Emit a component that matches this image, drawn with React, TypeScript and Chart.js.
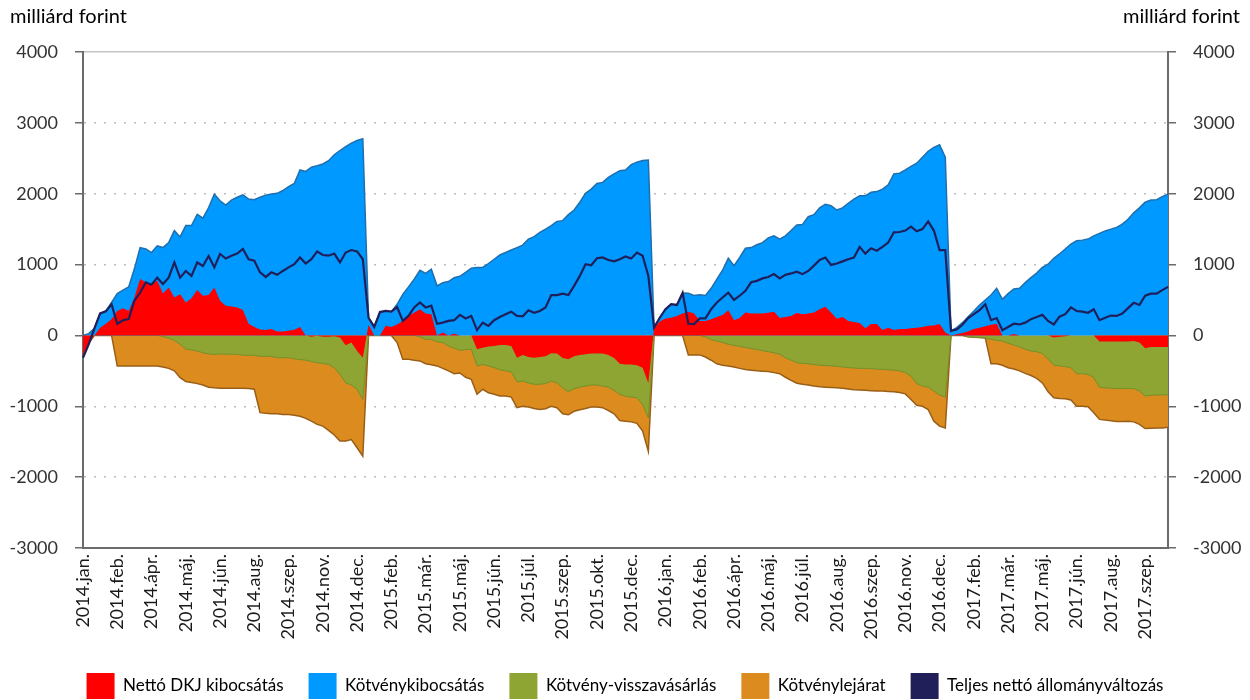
import React, { useEffect, useRef } from "react";
import { Chart, registerables } from "chart.js";

Chart.register(...registerables);

// Tick labels shown on the category axis (one every LABEL_STEP points)
const tickLabels = [
  "2014.jan.", "2014.feb.", "2014.ápr.", "2014.máj.", "2014.jún.", "2014.aug.", "2014.szep.", "2014.nov.", "2014.dec.",
  "2015.feb.", "2015.már.", "2015.máj.", "2015.jún.", "2015.júl.", "2015.szep.", "2015.okt.", "2015.dec.",
  "2016.jan.", "2016.feb.", "2016.ápr.", "2016.máj.", "2016.júl.", "2016.aug.", "2016.szep.", "2016.nov.", "2016.dec.",
  "2017.feb.", "2017.már.", "2017.máj.", "2017.jún.", "2017.aug.", "2017.szep.",
];
const LABEL_STEP = 6;

// Nettó DKJ kibocsátás (cumulative within year, bn HUF)
const dkj = [
  // 2014
  -300, -110, 0, 110, 165, 230, 345, 385, 345, 535,
  795, 750, 725, 770, 590, 675, 535, 580, 465, 525,
  640, 560, 570, 675, 490, 420, 410, 395, 360, 165,
  120, 85, 75, 90, 55, 55, 65, 80, 120, 0,
  -20, -5, -20, -20, -10, -30, -140, -100, -220, -315,
  // 2015
  150, 0, 0, 135, 120, 155, 205, 275, 320, 370,
  310, 300, 0, 40, 0, 25, 0, 0, 0, -195,
  -175, -155, -150, -135, -135, -150, -315, -275, -305, -315,
  -305, -295, -250, -255, -320, -335, -295, -275, -265, -255,
  -255, -255, -275, -320, -400, -410, -410, -420, -455, -670,
  // 2016
  100, 195, 240, 250, 275, 310, 335, 310, 205, 205,
  230, 260, 290, 355, 215, 245, 325, 310, 310, 310,
  320, 335, 245, 260, 275, 315, 300, 310, 325, 370,
  405, 325, 235, 260, 205, 190, 175, 100, 160, 160,
  75, 110, 75, 90, 90, 100, 110, 120, 135, 140,
  160, 40,
  // 2017
  0, 15, 35, 55, 90, 110, 130, 150, 165, 0,
  0, 20, 0, 0, 0, 0, 0, 0, -30, -20,
  -10, 0, 0, 0, 0, 0, -85, -85, -85, -85,
  -85, -85, -80, -100, -180, -165, -165, -165, -165,
];

// Kötvénykibocsátás
const kotveny = [
  // 2014
  0, 25, 100, 200, 180, 235, 245, 255, 340, 405,
  445, 470, 445, 495, 650, 635, 945, 810, 1085, 1025,
  1070, 1095, 1235, 1320, 1410, 1420, 1500, 1555, 1625, 1760,
  1795, 1865, 1905, 1905, 1950, 1990, 2035, 2065, 2215, 2315,
  2375, 2395, 2420, 2465, 2550, 2610, 2665, 2715, 2750, 2775,
  // 2015
  100, 120, 330, 210, 215, 285, 375, 410, 475, 550,
  565, 635, 700, 705, 760, 790, 835, 890, 950, 960,
  960, 1015, 1075, 1135, 1170, 1205, 1240, 1275, 1360, 1395,
  1455, 1500, 1550, 1610, 1620, 1705, 1770, 1880, 2005, 2065,
  2145, 2160, 2230, 2280, 2325, 2335, 2410, 2445, 2470, 2475,
  // 2016
  10, 55, 130, 190, 155, 290, 260, 255, 370, 360,
  435, 535, 630, 735, 770, 855, 905, 930, 970, 1000,
  1055, 1070, 1115, 1145, 1205, 1245, 1265, 1365, 1380, 1430,
  1445, 1505, 1535, 1540, 1660, 1735, 1795, 1870, 1860, 1870,
  1990, 2015, 2205, 2200, 2245, 2285, 2320, 2395, 2465, 2515,
  2530, 2475,
  // 2017
  65, 95, 145, 210, 255, 320, 370, 420, 500, 510,
  590, 635, 665, 745, 815, 880, 960, 1005, 1090, 1150,
  1220, 1290, 1335, 1345, 1360, 1405, 1440, 1475, 1500, 1525,
  1570, 1640, 1730, 1800, 1880, 1910, 1915, 1960, 1995,
];

// Kötvény-visszavásárlás
const visszavasarlas = [
  // 2014
  0, 0, 0, 0, 0, 0, 0, 0, 0, 0,
  0, 0, 0, 0, -15, -40, -70, -125, -195, -205,
  -220, -245, -260, -270, -260, -265, -265, -265, -280, -280,
  -280, -295, -295, -295, -315, -315, -315, -330, -340, -350,
  -350, -380, -375, -390, -445, -520, -530, -600, -540, -590,
  // 2015
  0, 0, 0, 0, 0, 0, 0, 0, 0, -20,
  -55, -55, -90, -100, -150, -180, -210, -200, -195, -235,
  -235, -275, -305, -350, -365, -365, -340, -370, -365, -375,
  -385, -385, -395, -415, -420, -460, -455, -455, -450, -445,
  -445, -460, -455, -455, -430, -450, -460, -460, -520, -495,
  // 2016
  0, 0, 0, 0, 0, 0, 0, 0, 0, -20,
  -60, -80, -100, -125, -140, -155, -170, -185, -200, -215,
  -230, -245, -265, -315, -350, -385, -395, -400, -410, -420,
  -425, -430, -435, -445, -455, -460, -465, -465, -470, -475,
  -480, -485, -490, -500, -525, -575, -680, -715, -730, -785,
  -840, -870,
  // 2017
  0, 0, 0, -20, -25, -30, -35, -55, -70, -80,
  -110, -135, -165, -195, -220, -230, -255, -335, -390, -410,
  -430, -455, -540, -540, -550, -595, -645, -655, -660, -665,
  -665, -665, -670, -685, -675, -680, -675, -675, -675,
];

// Kötvénylejárat
const lejarat = [
  // 2014
  0, 0, 0, 0, 0, 0, -430, -430, -430, -430,
  -430, -430, -430, -430, -430, -425, -430, -470, -455, -460,
  -460, -455, -470, -470, -485, -480, -480, -480, -465, -470,
  -480, -795, -805, -810, -790, -800, -800, -795, -800, -820,
  -840, -870, -885, -930, -950, -940, -820, -770, -825, -800,
  // 2015
  0, 0, 0, 0, 0, -100, -335, -335, -350, -340,
  -345, -360, -340, -365, -350, -360, -320, -390, -425, -400,
  -350, -380, -375, -370, -355, -355, -365, -355, -340, -340,
  -355, -355, -355, -350, -365, -325, -320, -320, -315, -310,
  -310, -305, -330, -330, -370, -350, -350, -360, -375, -470,
  // 2016
  0, 0, 0, 0, 0, 0, -275, -275, -275, -285,
  -290, -320, -320, -305, -305, -310, -310, -305, -300, -290,
  -280, -280, -275, -275, -285, -290, -295, -300, -305, -305,
  -305, -305, -305, -300, -300, -305, -305, -310, -310, -310,
  -305, -305, -305, -305, -300, -330, -305, -285, -315, -425,
  -440, -435,
  // 2017
  0, 0, 0, 0, 0, 0, 0, -345, -330, -340,
  -345, -340, -335, -340, -345, -375, -415, -460, -460, -460,
  -455, -455, -460, -460, -455, -495, -455, -455, -460, -465,
  -465, -460, -470, -470, -460, -465, -465, -465, -455,
];

// Teljes nettó állományváltozás
const teljes = [
  // 2014
  -315, -125, 100, 310, 340, 440, 165, 215, 230, 490,
  605, 750, 715, 815, 725, 815, 1030, 815, 910, 840,
  1030, 980, 1120, 960, 1150, 1085, 1125, 1155, 1220, 1075,
  1055, 890, 825, 890, 855, 910, 960, 1005, 1100, 1015,
  1075, 1185, 1135, 1125, 1155, 1030, 1170, 1205, 1185, 1075,
  // 2015
  250, 120, 330, 345, 335, 400, 205, 275, 395, 465,
  395, 420, 165, 180, 205, 215, 290, 240, 275, 75,
  180, 135, 215, 260, 300, 335, 275, 270, 355, 320,
  345, 395, 570, 570, 590, 570, 700, 840, 1005, 990,
  1090, 1100, 1065, 1045, 1075, 1115, 1085, 1170, 1125, 840,
  // 2016
  110, 250, 370, 440, 430, 600, 165, 160, 240, 240,
  370, 465, 535, 605, 500, 560, 630, 750, 770, 805,
  825, 865, 805, 855, 875, 900, 865, 910, 985, 1065,
  1100, 995, 1015, 1045, 1075, 1100, 1250, 1155, 1230, 1195,
  1250, 1310, 1455, 1460, 1480, 1535, 1470, 1500, 1610, 1480,
  1205, 1205,
  // 2017
  65, 85, 150, 245, 300, 355, 440, 215, 245, 75,
  120, 165, 155, 180, 230, 260, 290, 205, 155, 265,
  300, 395, 345, 335, 320, 370, 215, 250, 280, 275,
  310, 385, 460, 430, 560, 590, 590, 640, 685,
];

const seriesNames = [
  "Nettó DKJ kibocsátás",
  "Kötvénykibocsátás",
  "Kötvény-visszavásárlás",
  "Kötvénylejárat",
  "Teljes nettó állományváltozás",
];
const seriesColors = ["#ff0000", "#0099ff", "#8ea533", "#dc8c1f", "#211f5a"];

const FONT = "Lato, 'Open Sans', 'DejaVu Sans', sans-serif";
const AXIS_COLOR = "#6b6b6b";

export default function App() {
  const ref = useRef<HTMLCanvasElement | null>(null);

  useEffect(() => {
    const canvas = ref.current;
    if (!canvas) return;

    const labels = dkj.map(
      (_, i) => tickLabels[Math.min(Math.floor(i / LABEL_STEP), tickLabels.length - 1)]
    );
    const posTop = dkj.map((r, i) => Math.max(r, 0) + kotveny[i]);
    const negGreen = dkj.map((r, i) => Math.min(r, 0) + visszavasarlas[i]);
    const negOrange = negGreen.map((g, i) => g + lejarat[i]);

    const yAxis = (position: "left" | "right") => ({
      type: "linear",
      position,
      min: -3000,
      max: 4000,
      afterFit: (s: any) => {
        s.width = position === "left" ? 83 : 82;
      },
      ticks: {
        stepSize: 1000,
        padding: 17,
        color: "#333333",
        font: { family: FONT, size: 18 },
        callback: (v: any) => String(v),
      },
      grid: {
        drawOnChartArea: position === "left",
        color: (c: any) => {
          const v = c.tick ? c.tick.value : null;
          if (v === 4000) return "#c4c4c4";
          if (v === 0 || v === -3000) return "rgba(0,0,0,0)";
          return "#bcbcbc";
        },
        lineWidth: 1.5,
        tickLength: 8,
        tickColor: AXIS_COLOR,
        tickWidth: 1.5,
        tickBorderDash: [],
      },
      border: {
        display: true,
        color: AXIS_COLOR,
        width: 2,
        dash: (c: any) => (c.tick && c.tick.value !== 4000 ? [2, 8] : []),
      },
    });

    const chart = new Chart(canvas, {
      type: "line",
      data: {
        labels,
        datasets: [
          {
            label: seriesNames[0],
            data: dkj,
            fill: "origin",
            backgroundColor: seriesColors[0],
            borderColor: seriesColors[0],
            borderWidth: 0,
            order: 1,
          },
          {
            label: seriesNames[1],
            data: posTop,
            fill: "origin",
            backgroundColor: seriesColors[1],
            borderColor: "#1f6fae",
            borderWidth: 1.5,
            order: 2,
          },
          {
            label: seriesNames[2],
            data: negGreen,
            fill: "origin",
            backgroundColor: seriesColors[2],
            borderColor: "#74902a",
            borderWidth: 1,
            order: 3,
          },
          {
            label: seriesNames[3],
            data: negOrange,
            fill: "origin",
            backgroundColor: seriesColors[3],
            borderColor: "#9a5e17",
            borderWidth: 1.5,
            order: 4,
          },
          {
            label: seriesNames[4],
            data: teljes,
            fill: false,
            backgroundColor: seriesColors[4],
            borderColor: seriesColors[4],
            borderWidth: 2.2,
            order: 0,
          },
        ],
      },
      options: {
        responsive: false,
        animation: false,
        devicePixelRatio: 1,
        layout: { padding: { top: 52, bottom: -9, left: 0, right: 0 } },
        elements: {
          point: { radius: 0, hoverRadius: 0 },
          line: { tension: 0 },
        },
        scales: {
          x: {
            type: "category",
            afterFit: (s: any) => {
              s.height = 100;
            },
            grid: { display: false, drawTicks: false },
            border: { display: true, color: AXIS_COLOR, width: 2 },
            ticks: {
              autoSkip: false,
              maxRotation: 90,
              minRotation: 90,
              padding: 6,
              color: "#1a1a1a",
              font: { family: FONT, size: 18 },
              callback: function (this: any, v: any, i: number) {
                return i % LABEL_STEP === 0 ? this.getLabelForValue(v) : "";
              },
            },
          },
          y: yAxis("left") as any,
          y2: yAxis("right") as any,
        },
        plugins: {
          tooltip: { enabled: false },
          legend: {
            position: "bottom",
            labels: {
              boxWidth: 28,
              boxHeight: 26,
              padding: 25,
              color: "#000000",
              font: { family: FONT, size: 17 },
              sort: (a: any, b: any) => a.datasetIndex - b.datasetIndex,
              generateLabels: (ch: any) =>
                (Chart.defaults.plugins.legend.labels as any)
                  .generateLabels(ch)
                  .map((l: any) => ({
                    ...l,
                    fillStyle: seriesColors[l.datasetIndex],
                    strokeStyle: "rgba(0,0,0,0)",
                    lineWidth: 0,
                  })),
            },
          },
        },
      } as any,
    });

    return () => chart.destroy();
  }, []);

  const unitStyle: React.CSSProperties = {
    position: "absolute",
    top: 3,
    fontFamily: FONT,
    fontSize: 20,
    color: "#000",
    whiteSpace: "nowrap",
  };

  return (
    <div
      style={{
        position: "fixed",
        left: 0,
        top: 0,
        width: 1250,
        height: 700,
        background: "#ffffff",
      }}
    >
      <canvas ref={ref} width={1250} height={700} style={{ display: "block" }} />
      <div style={{ ...unitStyle, left: 10 }}>milliárd forint</div>
      <div style={{ ...unitStyle, right: 10 }}>milliárd forint</div>
    </div>
  );
}
